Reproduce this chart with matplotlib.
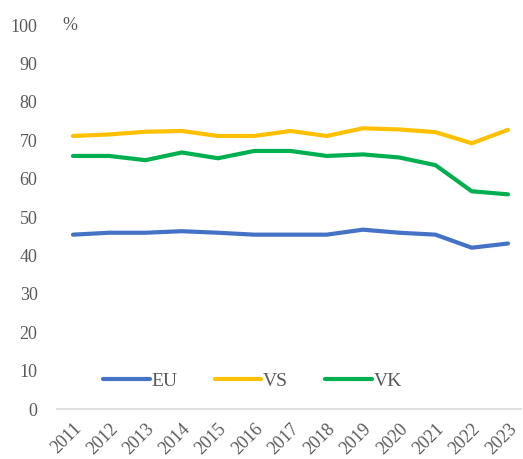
import matplotlib
matplotlib.use("Agg")
import matplotlib.pyplot as plt

# ---------- data ----------
years = [2011, 2012, 2013, 2014, 2015, 2016, 2017, 2018, 2019, 2020, 2021, 2022, 2023]
eu = [45.4, 45.9, 45.9, 46.3, 45.9, 45.4, 45.4, 45.4, 46.7, 45.9, 45.4, 42.0, 43.1]
vs = [71.1, 71.5, 72.2, 72.4, 71.1, 71.1, 72.4, 71.1, 73.1, 72.8, 72.1, 69.2, 72.7]
vk = [65.9, 65.9, 64.8, 66.8, 65.3, 67.2, 67.2, 65.9, 66.3, 65.5, 63.5, 56.7, 55.9]
series_names = ["EU", "VS", "VK"]
colors = ["#4472C4", "#FFC000", "#00B050"]
yticks = list(range(0, 101, 10))
# ---------------------------------------------------

plt.rcParams["font.family"] = ["Liberation Serif", "DejaVu Serif"]
txt_color = "#595959"

fig = plt.figure(figsize=(5.23, 4.59), dpi=100)
ax = fig.add_axes([57 / 523, 1 - 409 / 459, 464 / 523, 384 / 459])

for vals, name, c in zip([eu, vs, vk], series_names, colors):
    ax.plot(years, vals, color=c, lw=3, label=name, solid_capstyle="round")

ax.set_ylim(0, 100)
ax.set_xlim(years[0] - 16 / 36.25, years[-1] + 13 / 36.25)
ax.set_yticks(yticks)
ax.set_xticks(years)
ax.set_xticklabels([str(y) for y in years], rotation=45, ha="right",
                   rotation_mode="anchor")
ax.tick_params(axis="both", length=0, labelsize=13, labelcolor=txt_color)
ax.tick_params(axis="y", pad=14)
ax.tick_params(axis="x", pad=8)

for s in ["top", "right", "left"]:
    ax.spines[s].set_visible(False)
ax.spines["bottom"].set_color("#d9d9d9")
ax.spines["bottom"].set_linewidth(1.2)

fig.text(70 / 523, 1 - 25 / 459, "%", fontsize=13, color=txt_color,
         ha="center", va="center")

leg = ax.legend(loc="center left", bbox_to_anchor=((103 - 57) / 464, (409 - 381) / 384),
                ncol=3, frameon=False, fontsize=14, handlelength=2.4,
                handletextpad=0.1, columnspacing=1.9, borderpad=0, borderaxespad=0)
for t in leg.get_texts():
    t.set_color(txt_color)

fig.savefig("out.png", dpi=100)
